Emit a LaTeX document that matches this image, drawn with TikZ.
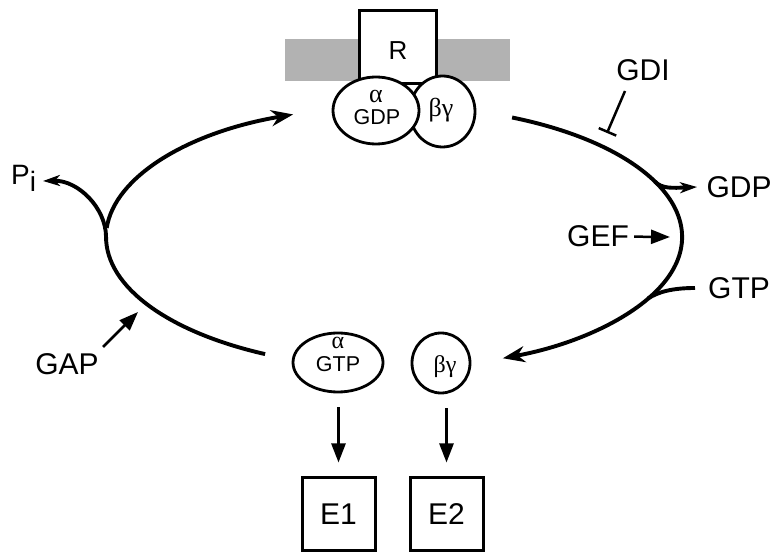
\documentclass[tikz,border=0pt]{standalone}
\usepackage{fontspec}
\setmainfont{Liberation Sans}
\newfontfamily\grk{Liberation Serif}
\usetikzlibrary{arrows.meta,shapes.geometric}
\begin{document}
\begin{tikzpicture}[x=1pt,y=-1pt,
  main/.style={line width=3.9pt},
  bigtip/.style={-{Stealth[length=22pt,width=16pt,inset=7pt]}},
  smalltip/.style={-{Stealth[length=17pt,width=11pt,inset=5pt]}},
  thin/.style={line width=2.5pt},
  tri/.style={-{Triangle[length=19pt,width=14pt]}},
  lbl/.style={font=\fontsize{30}{34}\selectfont, inner sep=0pt, anchor=base},
  inlbl/.style={font=\fontsize{21.5}{24}\selectfont, inner sep=0pt, anchor=base},
  grklbl/.style={font=\grk\fontsize{26}{28}\selectfont, inner sep=0pt, anchor=base},
  alph/.style={font=\grk\fontsize{26}{28}\selectfont, inner sep=0pt, anchor=base},
  ell/.style={ellipse, draw, fill=white, line width=2.8pt, inner sep=0pt},
  box/.style={rectangle, draw, fill=white, line width=3pt, inner sep=0pt}
]
\useasboundingbox (0,0) rectangle (780,553);
% membrane
\fill[black!30] (285,39) rectangle (510,81);
% receptor
\node[box, minimum width=77pt, minimum height=73pt] (R) at (397.5,47.5) {};
\node[lbl, font=\fontsize{26}{30}\selectfont] (Rtxt) at (398,60) {R};
% heterotrimer
\node[ell, minimum width=65pt, minimum height=71pt] (bg1) at (442.5,111.5) {};
\node[ell, minimum width=86pt, minimum height=67pt] (ag1) at (376,110.5) {};
\node[alph] (a1) at (376,103) {α};
\node[inlbl] (gdp1) at (377,125) {GDP};
\node[grklbl] (bgt1) at (441,117) {βγ};
% dissociated
\node[ell, minimum width=90pt, minimum height=59pt] (ag2) at (338,362.5) {};
\node[ell, minimum width=58pt, minimum height=60pt] (bg2) at (441,363) {};
\node[alph, font=\grk\fontsize{24}{26}\selectfont] (a2) at (338,349) {α};
\node[inlbl] (gtp2) at (338,372) {GTP};
\node[grklbl, font=\grk\fontsize{24}{26}\selectfont] (bgt2) at (445,373) {βγ};
% effectors
\node[box, minimum width=73pt, minimum height=72pt, font=\fontsize{30}{34}\selectfont] (E1) at (338.5,514) {E1};
\node[box, minimum width=73pt, minimum height=72pt, font=\fontsize{30}{34}\selectfont] (E2) at (446.5,514) {E2};
\draw[line width=2.6pt, tri, shorten <=14pt, shorten >=14pt] (E1.north |- ag2.south) -- (E1.north);
\draw[line width=2.6pt, tri, shorten <=14pt, shorten >=14pt] (E2.north |- bg2.south) -- (E2.north);
% labels
\node[lbl] (gdi) at (643,80.5) {GDI};
\node[lbl] (gdp) at (739,197.5) {GDP};
\node[lbl] (gef) at (598,247) {GEF};
\node[lbl] (gtp) at (739,298.5) {GTP};
\node[lbl] (gap) at (67,375) {GAP};
\node[lbl, font=\fontsize{28}{32}\selectfont, anchor=base west] (pi) at (11,185) {P\raisebox{-7pt}{i}};
% coordinates on the cycle
\coordinate (ulS) at (106.7,228.0);
\coordinate (rS) at (512.1,117.5);
\coordinate (llS) at (265.1,354.1);
\coordinate (piT) at (43,181);
\coordinate (gdpB) at (655,181.6);
\coordinate (gdpT) at (697,187);
\coordinate (gtpS) at (695,288);
\coordinate (gtpB) at (648,298.5);
\coordinate (gefT) at (670,237);
\coordinate (gapS) at (103,347);
\coordinate (gapT) at (138,312);
\coordinate (gdiS) at (625,91);
\coordinate (gdiT) at (607,133);
% cycle
\draw[main, bigtip] (ulS) arc[start angle=-176, end angle=-110.5, x radius=288, y radius=131];
\draw[main, bigtip] (rS) arc[start angle=-65.8, end angle=67.8, x radius=288, y radius=131];
\draw[main, smalltip] (llS) arc[start angle=116.6, end angle=180, x radius=288, y radius=131]
   .. controls (106,208) and (78,180) .. (piT);
% branches
\draw[main, smalltip] (gdpB) .. controls (662,189) and (673,188) .. (gdpT);
\draw[main] (gtpS) .. controls (672,288) and (658,292) .. (gtpB);
% modulators
\draw[thin, tri] (gef.east) ++(5,0) -- (gefT);
\draw[thin, tri] (gapS) -- (gapT);
\draw[thin, -{Bar[width=19pt]}] (gdiS) -- (gdiT);
\end{tikzpicture}
\end{document}
